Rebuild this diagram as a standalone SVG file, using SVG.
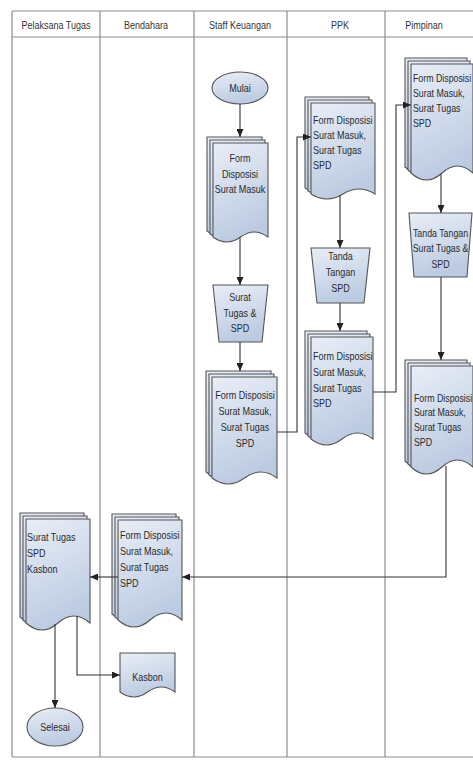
<svg xmlns="http://www.w3.org/2000/svg" xmlns:xlink="http://www.w3.org/1999/xlink" width="473" height="762" viewBox="0 0 473 762">
<style>
.lane{stroke:#8c8c8c;stroke-width:1.2;fill:none}
.hd{font-family:'Liberation Sans',Arial,sans-serif;font-size:11px;fill:#333;text-anchor:middle}
.sh{fill:url(#g);stroke:#555;stroke-width:1.1}
.t{font-family:'Liberation Sans',Arial,sans-serif;font-size:11px;fill:#2a2a2a}
.c{text-anchor:middle}
.cn{fill:none;stroke:#333;stroke-width:1.1;marker-end:url(#ah)}
</style>
<defs>
<linearGradient id="g" x1="0" y1="0" x2="0.3" y2="1">
<stop offset="0" stop-color="#e9eef7"/>
<stop offset="1" stop-color="#bccbe2"/>
</linearGradient>
<marker id="ah" markerUnits="userSpaceOnUse" markerWidth="8" markerHeight="7" refX="8" refY="3.5" orient="auto">
<path d="M0,0 L8,3.5 L0,7 Z" fill="#222"/>
</marker>
<path id="d1" d="M213,143 H268 V237 Q254.25,227 240.5,237 Q226.75,247 213,237 Z"/>
<path id="d2" d="M212,377 H277 V478 Q260.75,466 244.5,478 Q228.25,490 212,478 Z"/>
<path id="d3" d="M311,103 H375 V194 Q359,184 343,194 Q327,204 311,194 Z"/>
<path id="d4" d="M311,337 H373 V439 Q357.5,427 342,439 Q326.5,451 311,439 Z"/>
<path id="d5" d="M411,64 H473 V173 Q457.5,159 442,173 Q426.5,187 411,173 Z"/>
<path id="d6" d="M411,366 H473 V467 Q457.5,453 442,467 Q426.5,481 411,467 Z"/>
<path id="d7" d="M118,520 H182 V620 Q166,606 150,620 Q134,634 118,620 Z"/>
<path id="d8" d="M26,519 H90 V623 Q74,609 58,623 Q42,637 26,623 Z"/>
</defs>

<g id="lanes">
<line class="lane" x1="12" y1="11" x2="473" y2="11"/>
<line class="lane" x1="12" y1="37" x2="473" y2="37"/>
<line class="lane" x1="12" y1="757" x2="473" y2="757"/>
<line class="lane" x1="12" y1="11" x2="12" y2="757"/>
<line class="lane" x1="100" y1="11" x2="100" y2="757"/>
<line class="lane" x1="194" y1="11" x2="194" y2="757"/>
<line class="lane" x1="287" y1="11" x2="287" y2="757"/>
<line class="lane" x1="385" y1="11" x2="385" y2="757"/>
<text class="hd" transform="matrix(0.82 0 0 1 56 0)" x="0" y="29">Pelaksana Tugas</text>
<text class="hd" transform="matrix(0.82 0 0 1 146 0)" x="0" y="29">Bendahara</text>
<text class="hd" transform="matrix(0.82 0 0 1 240 0)" x="0" y="29">Staff Keuangan</text>
<text class="hd" transform="matrix(0.82 0 0 1 340 0)" x="0" y="29">PPK</text>
<text class="hd" transform="matrix(0.82 0 0 1 424 0)" x="0" y="29">Pimpinan</text>
</g>

<g id="mulai">
<ellipse class="sh" cx="240" cy="88" rx="28" ry="16"/>
<text class="t c" transform="matrix(0.82 0 0 1 240 0)" x="0" y="92">Mulai</text>
</g>

<g id="staff-doc1">
<use xlink:href="#d1" href="#d1" class="sh" x="-6" y="-6"/>
<use xlink:href="#d1" href="#d1" class="sh" x="-3" y="-3"/>
<use xlink:href="#d1" href="#d1" class="sh"/>
<g transform="matrix(0.82 0 0 1 240 0)">
<text class="t c" x="0" y="162">Form</text>
<text class="t c" x="0" y="178">Disposisi</text>
<text class="t c" x="0" y="193">Surat Masuk</text>
</g>
</g>

<g id="staff-trap">
<path class="sh" d="M213,285 L268,285 L262,342 L219,342 Z"/>
<g transform="matrix(0.82 0 0 1 240 0)">
<text class="t c" x="0" y="301">Surat</text>
<text class="t c" x="0" y="317">Tugas &amp;</text>
<text class="t c" x="0" y="332">SPD</text>
</g>
</g>

<g id="staff-doc2">
<use xlink:href="#d2" href="#d2" class="sh" x="-6" y="-6"/>
<use xlink:href="#d2" href="#d2" class="sh" x="-3" y="-3"/>
<use xlink:href="#d2" href="#d2" class="sh"/>
<g transform="matrix(0.82 0 0 1 245 0)">
<text class="t c" x="0" y="399">Form Disposisi</text>
<text class="t c" x="0" y="415">Surat Masuk,</text>
<text class="t c" x="0" y="431">Surat Tugas</text>
<text class="t c" x="0" y="447">SPD</text>
</g>
</g>

<g id="ppk-doc1">
<use xlink:href="#d3" href="#d3" class="sh" x="-6" y="-6"/>
<use xlink:href="#d3" href="#d3" class="sh" x="-3" y="-3"/>
<use xlink:href="#d3" href="#d3" class="sh"/>
<g transform="matrix(0.82 0 0 1 313 0)">
<text class="t" x="0" y="124">Form Disposisi</text>
<text class="t" x="0" y="139">Surat Masuk,</text>
<text class="t" x="0" y="154">Surat Tugas</text>
<text class="t" x="0" y="169">SPD</text>
</g>
</g>

<g id="ppk-trap">
<path class="sh" d="M311,248 L370,248 L364,303 L317,303 Z"/>
<g transform="matrix(0.82 0 0 1 340.5 0)">
<text class="t c" x="0" y="260">Tanda</text>
<text class="t c" x="0" y="276">Tangan</text>
<text class="t c" x="0" y="292">SPD</text>
</g>
</g>

<g id="ppk-doc2">
<use xlink:href="#d4" href="#d4" class="sh" x="-6" y="-6"/>
<use xlink:href="#d4" href="#d4" class="sh" x="-3" y="-3"/>
<use xlink:href="#d4" href="#d4" class="sh"/>
<g transform="matrix(0.82 0 0 1 313 0)">
<text class="t" x="0" y="360">Form Disposisi</text>
<text class="t" x="0" y="376">Surat Masuk,</text>
<text class="t" x="0" y="392">Surat Tugas</text>
<text class="t" x="0" y="407">SPD</text>
</g>
</g>

<g id="pimpinan-doc1">
<use xlink:href="#d5" href="#d5" class="sh" x="-6" y="-6"/>
<use xlink:href="#d5" href="#d5" class="sh" x="-3" y="-3"/>
<use xlink:href="#d5" href="#d5" class="sh"/>
<g transform="matrix(0.8 0 0 1 413 0)">
<text class="t" x="0" y="82">Form Disposisi</text>
<text class="t" x="0" y="97">Surat Masuk,</text>
<text class="t" x="0" y="112">Surat Tugas</text>
<text class="t" x="0" y="127">SPD</text>
</g>
</g>

<g id="pimpinan-trap">
<path class="sh" d="M409,213 L472,213 L467,277 L414,277 Z"/>
<g transform="matrix(0.8 0 0 1 440.5 0)">
<text class="t c" x="0" y="237">Tanda Tangan</text>
<text class="t c" x="0" y="252">Surat Tugas &amp;</text>
<text class="t c" x="0" y="268">SPD</text>
</g>
</g>

<g id="pimpinan-doc2">
<use xlink:href="#d6" href="#d6" class="sh" x="-6" y="-6"/>
<use xlink:href="#d6" href="#d6" class="sh" x="-3" y="-3"/>
<use xlink:href="#d6" href="#d6" class="sh"/>
<g transform="matrix(0.8 0 0 1 414 0)">
<text class="t" x="0" y="402">Form Disposisi</text>
<text class="t" x="0" y="416">Surat Masuk,</text>
<text class="t" x="0" y="431">Surat Tugas</text>
<text class="t" x="0" y="446">SPD</text>
</g>
</g>

<g id="bendahara-doc">
<use xlink:href="#d7" href="#d7" class="sh" x="-6" y="-6"/>
<use xlink:href="#d7" href="#d7" class="sh" x="-3" y="-3"/>
<use xlink:href="#d7" href="#d7" class="sh"/>
<g transform="matrix(0.82 0 0 1 120 0)">
<text class="t" x="0" y="539">Form Disposisi</text>
<text class="t" x="0" y="555">Surat Masuk,</text>
<text class="t" x="0" y="571">Surat Tugas</text>
<text class="t" x="0" y="587">SPD</text>
</g>
</g>

<g id="pelaksana-doc">
<use xlink:href="#d8" href="#d8" class="sh" x="-6" y="-6"/>
<use xlink:href="#d8" href="#d8" class="sh" x="-3" y="-3"/>
<use xlink:href="#d8" href="#d8" class="sh"/>
<g transform="matrix(0.82 0 0 1 27 0)">
<text class="t" x="0" y="541">Surat Tugas</text>
<text class="t" x="0" y="557">SPD</text>
<text class="t" x="0" y="573">Kasbon</text>
</g>
</g>

<g id="kasbon">
<path class="sh" d="M120,653 H175 V692 Q161.25,682 147.5,692 Q133.75,702 120,692 Z"/>
<text class="t c" transform="matrix(0.82 0 0 1 147.5 0)" x="0" y="681">Kasbon</text>
</g>

<g id="selesai">
<ellipse class="sh" cx="55" cy="727" rx="28" ry="19"/>
<text class="t c" transform="matrix(0.82 0 0 1 55 0)" x="0" y="731">Selesai</text>
</g>

<g id="connectors">
<path class="cn" d="M240,104 V137"/>
<path class="cn" d="M240,237 V285"/>
<path class="cn" d="M240,342 V371"/>
<path class="cn" d="M277,432 H297 V137 H311"/>
<path class="cn" d="M340,195 V248"/>
<path class="cn" d="M340,303 V331"/>
<path class="cn" d="M373,392 H396 V105 H411"/>
<path class="cn" d="M441,174 V213"/>
<path class="cn" d="M441,277 V360"/>
<path class="cn" d="M446,466 V577 H182"/>
<path class="cn" d="M118,577 H90"/>
<path class="cn" d="M55,624 V708"/>
<path class="cn" d="M77,616 V675 H120"/>
</g>
</svg>
